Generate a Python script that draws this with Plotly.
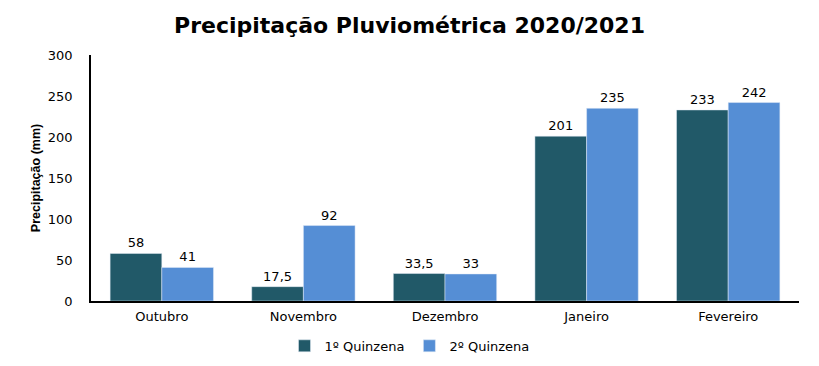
import plotly.graph_objects as go

months = ["Outubro", "Novembro", "Dezembro", "Janeiro", "Fevereiro"]
q1 = [58, 17.5, 33.5, 201, 233]
q2 = [41, 92, 33, 235, 242]
y_ticks = [0, 50, 100, 150, 200, 250, 300]

def fmt(v):
    return (f"{v:g}").replace(".", ",")

fig = go.Figure()
fig.add_bar(x=months, y=q1, name="1º Quinzena", marker_color="#215968",
            text=[fmt(v) for v in q1], textposition="outside",
            textfont=dict(size=13, color="#000000", family="DejaVu Sans"), cliponaxis=False)
fig.add_bar(x=months, y=q2, name="2º Quinzena", marker_color="#558ED5",
            text=[fmt(v) for v in q2], textposition="outside",
            textfont=dict(size=13, color="#000000", family="DejaVu Sans"), cliponaxis=False)

fig.update_layout(
    width=819, height=366,
    margin=dict(l=91, r=20, t=55, b=65, autoexpand=False),
    paper_bgcolor="white", plot_bgcolor="white",
    barmode="group", bargap=0.27, bargroupgap=0,
    separators=",.",
    title=dict(text="<b>Precipitação Pluviométrica 2020/2021</b>", x=0.5, xanchor="center",
               y=0.93, yanchor="middle",
               font=dict(size=22, family="DejaVu Sans", color="#000000")),
    font=dict(family="DejaVu Sans", size=13, color="#000000"),
    showlegend=True,
    legend=dict(orientation="h", xref="container", x=0.5, xanchor="center",
                yref="container", y=0.055, yanchor="middle",
                font=dict(size=13, family="DejaVu Sans"),
                traceorder="normal", itemwidth=30),
)
fig.update_xaxes(showline=True, linecolor="#000000", linewidth=1.5, ticks="",
                 tickfont=dict(size=13, family="DejaVu Sans"), ticklabelstandoff=3)
fig.update_yaxes(range=[0, 300], tickvals=y_ticks, showgrid=False, showline=True,
                 linecolor="#000000", linewidth=1.5, ticks="", zeroline=False,
                 tickfont=dict(size=13, family="DejaVu Sans"), ticklabelstandoff=14,
                 title=dict(text="<b>Precipitação (mm)</b>", standoff=4,
                            font=dict(size=12.5, family="Liberation Sans")))
fig.write_html("out.html")
